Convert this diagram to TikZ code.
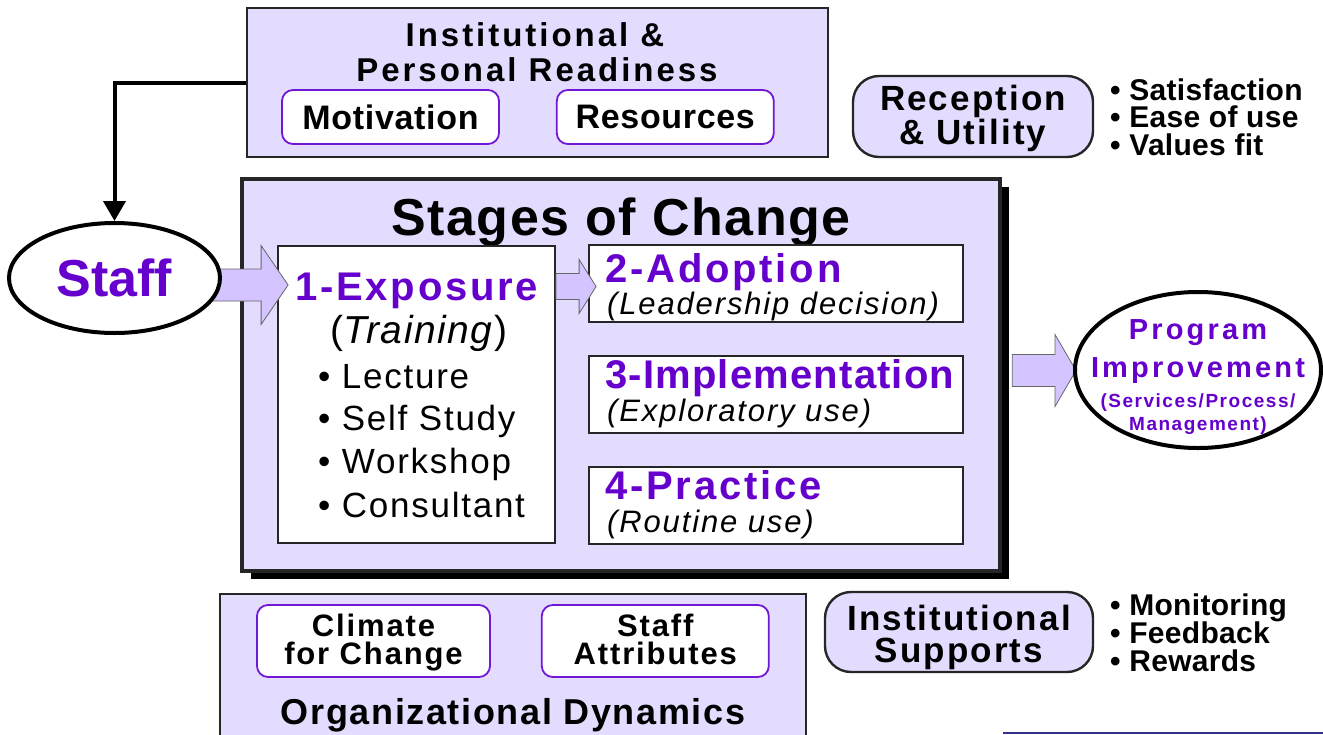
\documentclass[tikz,border=0pt]{standalone}
\usepackage{fontspec}
\setmainfont{Liberation Sans}
\usetikzlibrary{positioning,calc,shadows,shapes.geometric,arrows.meta}

\definecolor{lav}{RGB}{228,220,255}
\definecolor{lavdark}{RGB}{212,196,255}
\definecolor{plum}{RGB}{102,0,204}
\definecolor{rim}{RGB}{112,24,214}
\definecolor{rulecol}{RGB}{51,51,140}

% size, skip, letter spacing
\newcommand\fsz[3]{\fontsize{#1}{#2}\selectfont\addfontfeature{LetterSpace=#3}}
% horizontal block arrow: tail, tip, half shaft, half head, head length
\newcommand\fatarrow[5]{%
  \path[fat] ($(#1)+(0,-#3)$) -- ($(#2)+(-#5,-#3)$) -- ($(#2)+(-#5,-#4)$) -- (#2)
    -- ($(#2)+(-#5,#4)$) -- ($(#2)+(-#5,#3)$) -- ($(#1)+(0,#3)$) -- cycle;}

\begin{document}
\begin{tikzpicture}[x=1pt, y=-1pt, inner sep=0pt,
  panel/.style = {draw=black!85, line width=2.2pt, fill=lav},
  stagebox/.style = {draw=black!85, line width=1.8pt, fill=white, minimum width=374pt, minimum height=77pt},
  pill/.style = {draw=rim, line width=1.8pt, fill=white, rounded corners=11pt},
  tag/.style = {draw=black!85, line width=2.4pt, fill=lav, rounded corners=26pt},
  oval/.style = {draw, ellipse, line width=4pt, fill=white},
  fat/.style = {fill=lavdark, draw=black!60, line width=0.8pt},
  feed/.style = {line width=4pt, -{Triangle[length=20pt,width=22pt]}},
  head/.style = {font=\bfseries\fsz{#1}{#1}{6}, anchor=base},
  stname/.style = {font=\bfseries\fsz{40}{40}{7}, text=plum, anchor=base west},
  stnote/.style = {font=\itshape\fsz{31}{31}{6}, anchor=base west},
  item/.style = {font=\fsz{35}{35}{5}, anchor=base west},
  dot/.style = {font=\bfseries\fsz{30}{30}{1}, anchor=base west},
  impr/.style = {font=\bfseries\fsz{29}{29}{11}, text=plum, anchor=base}]
\useasboundingbox (0,0) rectangle (1323,734);

% readiness
\node[panel, minimum width=581pt, minimum height=149pt] (ready) at (537.5,82.5) {};
\node[head=33, font=\bfseries\fsz{33}{33}{9}] (ready1) at (535,46) {Institutional \&};
\node[head=33, font=\bfseries\fsz{33}{33}{9}] (ready2) at (537,81) {Personal Readiness};
\node[pill, minimum width=217pt, minimum height=54pt, font=\bfseries\fsz{34}{34}{2}] (motiv) at (390.5,117) {Motivation};
\node[pill, minimum width=217pt, minimum height=54pt, font=\bfseries\fsz{34}{34}{2}, right=56pt of motiv] (resrc) {Resources};

% stages of change
\node[panel, line width=4.5pt, minimum width=758pt, minimum height=392pt,
  drop shadow={shadow xshift=9pt, shadow yshift=-8pt, fill=black, opacity=1}] (stages) at (621,375) {};
\node[font=\bfseries\fsz{52}{52}{3}, anchor=base] (stagest) at (621,235) {Stages of Change};
\node[stagebox, minimum width=277pt, minimum height=297pt] (expo) at (416.5,394.5) {};
\node[stagebox] (adopt) at (776,283.5) {};
\node[stagebox, below=32pt of adopt] (impl) {};
\node[stagebox, below=32pt of impl] (pract) {};

% staff
\coordinate (a1) at (200,285);
\path (a1 -| expo.west) ++(11,0) coordinate (a1tip);
\fatarrow{a1}{a1tip}{16}{39.5}{27}
\node[oval, minimum width=211pt, minimum height=110pt, text=plum, font=\bfseries\fsz{52}{52}{0}] (staff) at (114.5,278) {Staff};
\draw[feed] (ready.west) -| (staff.north);

\path (adopt.west -| expo.east) ++(0,3) coordinate (a2);
\path (a2 -| adopt.west) ++(8,0) coordinate (a2tip);
\fatarrow{a2}{a2tip}{13}{27}{17}

\node[stname] (expot) at (295,300) {1-Exposure};
\node[font=\fsz{39}{39}{4}, anchor=base] (train) at (419,343) {(\textit{Training})};
\node[item] (lect) at (318,388) {• Lecture};
\node[item] (self) at (318,430) {• Self Study};
\node[item] (works) at (318,473) {• Workshop};
\node[item] (consu) at (318,517) {• Consultant};

\node[stname] (adoptt) at (605,282) {2-Adoption};
\node[stnote] (adoptn) at (607,314) {(Leadership decision)};
\node[stname, font=\bfseries\fsz{40}{40}{3}] (implt) at (605,388) {3-Implementation};
\node[stnote] (impln) at (607,421) {(Exploratory use)};
\node[stname] (practt) at (605,499) {4-Practice};
\node[stnote] (practn) at (607,532) {(Routine use)};

% program improvement
\path (stages.east) ++(10,-4.5) coordinate (a3);
\coordinate (a3tip) at (1076,370.5);
\fatarrow{a3}{a3tip}{16}{36}{21}
\node[oval, minimum width=246pt, minimum height=156pt] (prog) at (1198,370) {};
\node[impr] (progt) at (1198,339) {Program};
\node[impr] (progi) at (1198,377) {Improvement};
\node[impr, font=\bfseries\fsz{19}{19}{8}] (progs) at (1198,407) {(Services/Process/};
\node[impr, font=\bfseries\fsz{19}{19}{8}] (progm) at (1198,430) {Management)};

% reception
\node[tag, minimum width=240pt, minimum height=81pt] (recep) at (973,116.5) {};
\node[head=35] (recep1) at (973,110) {Reception};
\node[head=35] (recep2) at (973,144) {\& Utility};
\node[dot] (sat) at (1110,100) {• Satisfaction};
\node[dot] (ease) at (1110,127.5) {• Ease of use};
\node[dot] (vfit) at (1110,155) {• Values fit};

% organizational dynamics
\node[panel, minimum width=586pt, minimum height=160pt] (orgdyn) at (513,674) {};
\node[pill, minimum width=233pt, minimum height=72pt] (clim) at (373.5,641) {};
\node[pill, minimum width=227pt, minimum height=72pt, right=50pt of clim] (attr) {};
\node[head=31] (clim1) at (clim |- 0,636) {Climate};
\node[head=31] (clim2) at (clim |- 0,664) {for Change};
\node[head=31] (attr1) at (attr |- 0,636) {Staff};
\node[head=31] (attr2) at (attr |- 0,664) {Attributes};
\node[head=36, font=\bfseries\fsz{36}{36}{4.5}] (orgt) at (513,724) {Organizational Dynamics};

% supports
\node[tag, minimum width=268pt, minimum height=80pt] (supp) at (959,632) {};
\node[head=35] (supp1) at (959,630) {Institutional};
\node[head=35] (supp2) at (959,662) {Supports};
\node[dot] (moni) at (1110,615) {• Monitoring};
\node[dot] (feed) at (1110,643) {• Feedback};
\node[dot] (rewd) at (1110,671) {• Rewards};

\draw[rulecol, line width=1.5pt] (1003,733) -- (1323,733);
\end{tikzpicture}
\end{document}
